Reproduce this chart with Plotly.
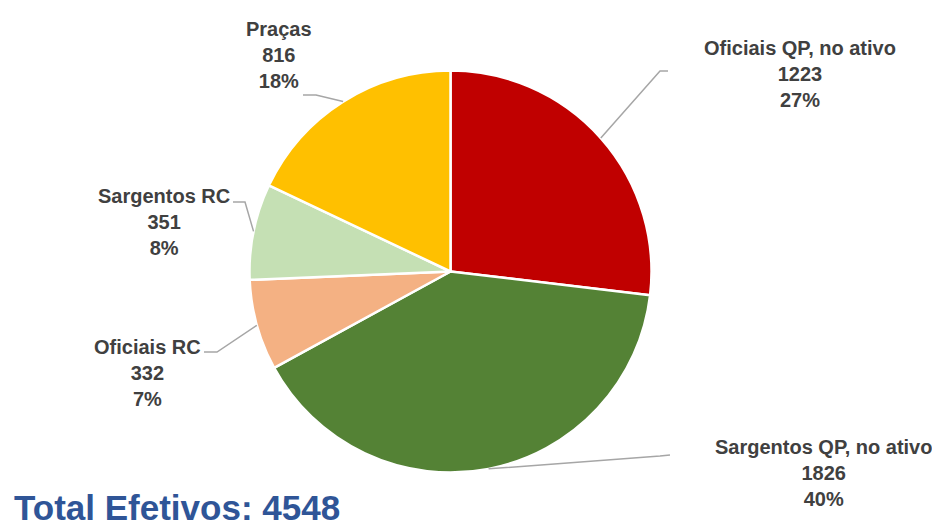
import math
import plotly.graph_objects as go

# Personnel breakdown
labels = ["Oficiais QP, no ativo", "Sargentos QP, no ativo", "Oficiais RC", "Sargentos RC", "Praças"]
values = [1223, 1826, 332, 351, 816]
colors = ["#C00000", "#548235", "#F4B183", "#C5E0B4", "#FFC000"]
total_label = "Total Efetivos"

W, H = 932, 527
CX, CY, R = 450.5, 271.5, 201  # pie centre / radius in pixels

# label text centre (px) and leader-line elbow/end points (px)
label_pos = [(800, 74), (823, 473), (147, 373), (164, 222), (279, 55)]
elbows = [((660, 71), (668, 71)), ((660, 456), (670, 455)), ((217, 352), (204, 352)),
          ((245, 202), (233, 202)), ((316, 95), (303, 95))]


def px_to_paper(x, y):
    return x / W, 1 - y / H


fig = go.Figure(go.Pie(
    labels=labels, values=values, sort=False, direction="clockwise", rotation=0,
    marker=dict(colors=colors, line=dict(color="white", width=2.5)),
    textinfo="none", hoverinfo="label+value+percent",
    domain=dict(x=[(CX - R) / W, (CX + R) / W], y=[1 - (CY + R) / H, 1 - (CY - R) / H]),
    showlegend=False,
))

total = sum(values)
cum = 0
annotations = []
shapes = []
for lab, val, (lx, ly), (elb, end) in zip(labels, values, label_pos, elbows):
    mid = (cum + val / 2) / total * 2 * math.pi
    cum += val
    sx, sy = CX + R * math.sin(mid), CY - R * math.cos(mid)
    pts = [px_to_paper(sx, sy), px_to_paper(*elb), px_to_paper(*end)]
    path = "M {} {} L {} {} L {} {}".format(*[c for p in pts for c in p])
    shapes.append(dict(type="path", xref="paper", yref="paper", path=path,
                       line=dict(color="#A6A6A6", width=1.5)))
    ax, ay = px_to_paper(lx, ly)
    pct = round(val / total * 100)
    annotations.append(dict(
        x=ax, y=ay, xref="paper", yref="paper", xanchor="center", yanchor="middle",
        text=f"<b>{lab}<br>{val}<br>{pct}%</b>", showarrow=False, align="center",
        font=dict(family="Liberation Sans, Arial, sans-serif", size=20, color="#404040"),
    ))

tx, ty = px_to_paper(12, 507)
annotations.append(dict(
    x=tx, y=ty, xref="paper", yref="paper", xanchor="left", yanchor="middle",
    text=f"<b>{total_label}: {total}</b>", showarrow=False,
    font=dict(family="Liberation Sans, Arial, sans-serif", size=35, color="#2F5597"),
))

fig.update_layout(
    width=W, height=H, margin=dict(l=0, r=0, t=0, b=0),
    paper_bgcolor="white", plot_bgcolor="white",
    annotations=annotations, shapes=shapes,
)

fig.write_html("out.html")
